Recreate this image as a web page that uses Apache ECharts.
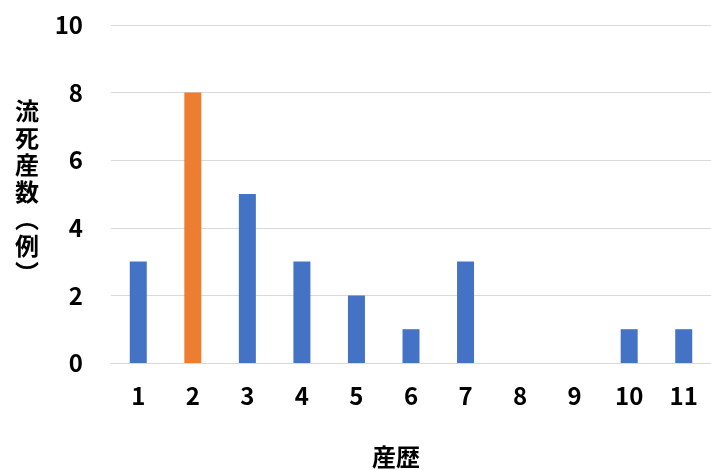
<!DOCTYPE html>
<html>
<head>
<meta charset="utf-8">
<script src="https://cdn.jsdelivr.net/npm/echarts@6/dist/echarts.min.js"></script>
<style>
html,body{margin:0;padding:0;background:#fff;}
#chart{width:711px;height:470px;}
</style>
</head>
<body>
<div id="chart"></div>
<script>
const categories = ['1','2','3','4','5','6','7','8','9','10','11'];
const values = [3, 8, 5, 3, 2, 1, 3, 0, 0, 1, 1];
const highlightCategory = '2';
const yTitle = '流死産数（例）';
const xTitle = '産歴';

const FONT = '"Noto Sans CJK JP", "Noto Sans", sans-serif';
const BLUE = '#4472C4';
const ORANGE = '#ED7D31';

// vertical rendering of the y title: stack characters, use vertical forms for brackets
const verticalMap = { '（': '︵', '）': '︶' };
const yTitleVertical = Array.from(yTitle).map(c => verticalMap[c] || c).join('\n');

const chart = echarts.init(document.getElementById('chart'), null, { renderer: 'canvas' });
chart.setOption({
  animation: false,
  backgroundColor: '#fff',
  grid: { left: 111, top: 25, width: 606, height: 338 },
  xAxis: {
    type: 'category',
    data: categories,
    axisLine: { lineStyle: { color: '#d9d9d9', width: 1 } },
    axisTick: { show: false },
    axisLabel: { color: '#000', fontFamily: FONT, fontSize: 24, fontWeight: 'bold', margin: 21 }
  },
  yAxis: {
    type: 'value',
    min: 0, max: 10, interval: 2,
    axisLine: { show: false },
    axisTick: { show: false },
    splitLine: { lineStyle: { color: '#d9d9d9', width: 1 } },
    axisLabel: { color: '#000', fontFamily: FONT, fontSize: 24, fontWeight: 'bold', margin: 28 }
  },
  series: [{
    type: 'bar',
    barWidth: 17,
    data: values.map((v, i) => ({
      value: v,
      itemStyle: { color: categories[i] === highlightCategory ? ORANGE : BLUE }
    }))
  }],
  graphic: [
    {
      type: 'text', x: 27, y: 192,
      style: {
        text: yTitleVertical,
        font: 'bold 24px ' + FONT,
        lineHeight: 27,
        fill: '#000',
        align: 'center',
        verticalAlign: 'middle'
      }
    },
    {
      type: 'text', x: 396, y: 457,
      style: {
        text: xTitle,
        font: 'bold 24px ' + FONT,
        fill: '#000',
        align: 'center',
        verticalAlign: 'middle'
      }
    }
  ]
});
</script>
</body>
</html>
